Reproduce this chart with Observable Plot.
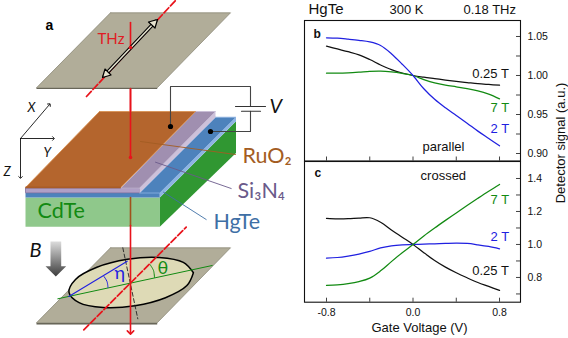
<!DOCTYPE html>
<html><head><meta charset="utf-8">
<script src="https://cdn.jsdelivr.net/npm/d3@7"></script>
<script src="https://cdn.jsdelivr.net/npm/@observablehq/plot@0.6"></script>
<style>
html,body{margin:0;padding:0;background:#fff}
#root{position:relative;width:568px;height:338px;overflow:hidden}
#root svg{position:absolute;left:0;top:0;background:transparent;overflow:visible}
</style></head><body><div id="root"></div>
<script>
const SANS = "Liberation Sans, Arial, sans-serif";
const CAL = "Lato, sans-serif";
const BLACK = "#111", BLUE = "#2020e0", GREEN = "#128a12";

// Gate voltage sample positions
const gate = [-0.8,-0.7,-0.6,-0.5,-0.4,-0.3,-0.2,-0.1,0,0.1,0.2,0.3,0.4,0.5,0.6,0.7,0.8];
// Panel b: parallel
const b025 = [1.0376,1.0340,1.0305,1.0265,1.0205,1.0135,1.0075,1.0032,1.0,0.9978,0.9960,0.9942,0.9925,0.9910,0.9895,0.9885,0.9876];
const b2   = [1.0483,1.0478,1.0465,1.0450,1.0430,1.0385,1.0280,1.0145,1.0,0.9830,0.9695,0.9586,0.9488,0.9389,0.9287,0.9193,0.9099];
const b7   = [1.0030,1.0030,1.0034,1.0042,1.0052,1.0055,1.0045,1.0026,1.0,0.9948,0.9905,0.9876,0.9855,0.9833,0.9804,0.9761,0.9701];
// Panel c: crossed
const c025 = [1.1576,1.1550,1.1560,1.1600,1.1620,1.1350,1.0880,1.0440,1.0,0.9500,0.9030,0.8626,0.8283,0.7980,0.7697,0.7455,0.7212];
const c2   = [0.9170,0.9210,0.9300,0.9420,0.9580,0.9790,0.9920,0.9980,1.0,1.002,1.004,1.006,1.0075,1.006,0.998,0.9879,0.9737];
const c7   = [0.7515,0.7556,0.7630,0.7750,0.7960,0.8400,0.8960,0.9500,1.0,1.0520,1.1000,1.1460,1.1910,1.2360,1.2800,1.3230,1.3640];
// Ticks
const xTicks = [-0.8,-0.4,0,0.4,0.8];
const xLabels = [-0.8,0,0.8];
const bMajor = [0.90,0.95,1.00,1.05];
const bAll = [0.90,0.925,0.95,0.975,1.00,1.025,1.05];
const cMajor = [0.8,1.0,1.2,1.4];
const cAll = [0.7,0.8,0.9,1.0,1.1,1.2,1.3,1.4];

const root = document.getElementById("root");
const zip = (ys) => gate.map((g,i)=>({g, v:ys[i]}));

function panel({top, height, marginTop, marginBottom, yDomain, curves, labels, yTicksAll, yTicksMajor, yFmt, extra=[]}) {
  const chart = Plot.plot({
    width:568, height, marginLeft:304, marginRight:48, marginTop, marginBottom,
    x:{domain:[-1.0035,0.994],axis:null}, y:{domain:yDomain},
    style:{background:"transparent", fontFamily:SANS},
    marks:[
      ...curves.map(c=>Plot.line(zip(c.ys),{x:"g",y:"v",stroke:c.color,strokeWidth:1.25,curve:"catmull-rom"})),
      Plot.tickX(xTicks,{x:d=>d,insetTop:height-marginTop-marginBottom-4,stroke:BLACK,strokeWidth:0.8}),
      Plot.tickY(yTicksAll,{y:d=>d,insetLeft:212,stroke:BLACK,strokeWidth:0.8}),
      Plot.axisY({anchor:"right",ticks:yTicksMajor,tickSize:0,tickPadding:7,tickFormat:yFmt,fontSize:10.5,label:null,textAnchor:"start",fill:BLACK}),
      ...labels.map(l=>Plot.text([l.t],{x:l.x,y:l.y,text:d=>d,fill:l.c||BLACK,fontSize:l.bold?12:13,fontWeight:l.bold?"bold":"normal",textAnchor:"start",lineAnchor:"bottom",fontFamily:SANS})),
      Plot.frame({stroke:BLACK,strokeWidth:1.1}),
      ...extra
    ]
  });
  chart.style.top = top+"px";
  root.append(chart);
}

// Schematic shapes, in a 568 x 338 diagram space
const topPlate = [[110,12.3],[230,12.3],[156.7,87.3],[36,87.3]];
const topPlateEdge = [[36,87.3],[156.7,87.3],[156.7,88.6],[36,88.6]];
const lowPlate = [[110,247.3],[230,247.3],[156.7,322.3],[36,322.3]];
const lowPlateEdge = [[36,322.3],[156.7,322.3],[156.7,324],[36,324]];
const ruTop = [[99,111],[195,111],[120.3,187],[25,187]];
const ruFront = [[25,186],[120.3,186],[120.3,187.7],[25,187.7]];
const sinTop = [[195,111],[215,111],[139,187.7],[120.3,187.7]];
const sinSide = [[215,111],[215,116.7],[139,192.5],[139,187.7]];
const sinFront = [[25,187.5],[139,187.5],[139,192.3],[25,192.3]];
const hgTop = [[215,116.7],[235.5,116.7],[159.3,192.5],[139,192.5]];
const hgSide = [[235.5,116.7],[235.5,120.7],[159.3,197],[159.3,192.5]];
const hgFront = [[25,192.3],[159.3,192.3],[159.3,197],[25,197]];
const cdFront = [[25,197],[159.3,197],[159.3,226.3],[25,226.3]];
const cdSide = [[159.3,197],[235.5,120.7],[235.5,152.5],[159.3,226.3]];
const bArrow = [[50,241],[60.7,241],[60.7,265.7],[65.7,265.7],[55.3,276],[45,265.7],[50,265.7]];
const ellipse = [[192.9,272.2],[186.4,285.1],[165,297.2],[134.4,305.2],[102.8,307],[78.6,302.1],[68.5,291.8],[75,278.9],[96.4,266.8],[127,258.8],[158.6,257],[182.8,261.9]];
const circuitA = [[170,126],[170,86],[250,86],[250,106]];
const circuitB = [[250,110.7],[250,131],[210,131]];
const batt1 = [[235,106],[265,106]];
const batt2 = [[241,110.7],[260,110.7]];
const dashedTop = [[86,96],[175,0]];
const dashedLow = [[83.3,329.3],[185.7,226.7]];
const polarizer = [[104,75],[155,21]];
const headA = [[157,19],[148,21.5],[154.5,27.5]];
const headB = [[102,77],[104.5,68.5],[110.5,74.5]];
const beamA = [[130,22],[130,47]];
const beamB = [[130,88],[130,157]];
const beamC = [[130,197],[130,225]];
const beamD = [[130,225],[130,332]];
const axisXA = [[20,138],[49,104]];
const axisYA = [[20,138],[53,138]];
const axisZA = [[20,138],[20,177]];
const leadRu = [[140,141],[235,154]];
const leadSi = [[155,161.7],[230.7,188]];
const leadHg = [[163,191.7],[205.7,219]];
const majorAxis = [[57.3,298.3],[211.7,265]];
const etaLine = [[68.3,296],[126.7,260.7]];
const perpLine = [[122.3,247.3],[137.3,318.3]];
const arcEta = [[103.5,276],[106.5,281],[107.5,287]];
const arcTheta = [[149.5,264],[153,270],[154,277]];
const dots = [[170,126],[210,131]];
const redDots = [[130,47],[130,157],[130,283]];

const diagramTexts = [
  {t:"a",x:45,y:29,c:"#000",s:14,w:"bold",f:SANS},
  {t:"THz",x:97,y:43,c:"#e01b24",s:15,f:CAL},
  {t:"V",x:269,y:112,c:"#111",s:20,i:1,f:CAL},
  {t:"X",x:27,y:111,c:"#111",s:13,i:1,f:CAL},
  {t:"Y",x:43,y:156,c:"#111",s:13,i:1,f:CAL},
  {t:"Z",x:3,y:175,c:"#111",s:13,i:1,f:CAL},
  {t:"RuO\u2082",x:242,y:162,c:"#a35c22",s:21.5,f:CAL},
  {t:"Si\u2083N\u2084",x:237,y:197,c:"#6a5a8a",s:21.5,f:CAL},
  {t:"HgTe",x:213,y:228,c:"#3e6fa5",s:21.5,f:CAL},
  {t:"CdTe",x:37,y:217,c:"#128a12",s:21.5,f:CAL},
  {t:"B",x:29,y:256,c:"#111",s:20,i:1,f:CAL},
  {t:"\u03b7",x:114,y:278,c:"#2020e0",s:18,f:CAL},
  {t:"\u03b8",x:157,y:273,c:"#128a12",s:18,f:CAL}
];

const area = (pts,fill,stroke) => Plot.line([...pts,pts[0]],{x:d=>d[0],y:d=>d[1],fill,stroke:stroke||"none",strokeWidth:stroke?0.8:0});
const seg = (pts,stroke,strokeWidth=1,extra={}) => Plot.line(pts,{x:d=>d[0],y:d=>d[1],stroke,strokeWidth,...extra});

const diagram = Plot.plot({
  width:568,height:338,margin:0,
  x:{domain:[0,568],axis:null},y:{domain:[338,0],axis:null},
  style:{background:"transparent"},
  marks:[
    seg(beamB,"#e8131b",1.6),
    area(topPlateEdge,"#5e5c4f"),
    area(topPlate,"#b1ad99","#8c8977"),
    seg(dashedTop,"#e8131b",1.7,{strokeDasharray:"7,2.5"}),
    seg(beamA,"#e8131b",1.6),
    seg(polarizer,"#000",3.6),
    seg(polarizer,"#e6e3cf",1.5),
    Plot.line([...headA,headA[0]],{x:d=>d[0],y:d=>d[1],fill:"#e6e3cf",stroke:"#000",strokeWidth:1.2}),
    Plot.line([...headB,headB[0]],{x:d=>d[0],y:d=>d[1],fill:"#e6e3cf",stroke:"#000",strokeWidth:1.2}),
    Plot.dot([redDots[0]],{x:d=>d[0],y:d=>d[1],r:1.8,fill:"#e8131b"}),
    area(cdFront,"url(#pf)"),
    area(cdSide,"url(#ps)"),
    area(hgFront,"url(#ph)"),
    area(hgSide,"#8eb4e3"),
    area(hgTop,"url(#ph)","#8eb4e3"),
    area(sinFront,"#b09fc6","#7d6c9c"),
    area(sinSide,"#cdc1da"),
    area(sinTop,"#a08fb0","#c8bbd6"),
    area(ruTop,"url(#pr)","#d98f4c"),
    area(ruFront,"#a85c28"),
    seg(beamB,"#e8131b",1.6),
    Plot.dot([redDots[1]],{x:d=>d[0],y:d=>d[1],r:1.8,fill:"#e8131b"}),
    seg(beamC,"#a0521c",1.6),
    seg(leadRu,"#a35c22",0.9),
    seg(leadSi,"#6a5a8a",0.9),
    seg(leadHg,"#3e6fa5",0.9),
    seg(circuitA,"#444",1.1),
    seg(circuitB,"#444",1.1),
    seg(batt1,"#333",1.1),
    seg(batt2,"#333",1.1),
    Plot.dot(dots,{x:d=>d[0],y:d=>d[1],r:2.6,fill:"#000"}),
    seg(axisXA,"#111",0.9,{markerEnd:"arrow"}),
    seg(axisYA,"#111",0.9,{markerEnd:"arrow"}),
    seg(axisZA,"#111",0.9,{markerEnd:"arrow"}),
    area(bArrow,"url(#bgrad)"),
    area(lowPlateEdge,"#5e5c4f"),
    area(lowPlate,"#b1ad99","#8c8977"),
    Plot.line([...ellipse,ellipse[0]],{x:d=>d[0],y:d=>d[1],curve:"catmull-rom-closed",fill:"#dedab6",stroke:"#000",strokeWidth:1.5}),
    seg(perpLine,"#222",0.9,{strokeDasharray:"4,2.5"}),
    seg(majorAxis,"#128a12",1),
    seg(etaLine,"#2020e0",1.1),
    seg(arcEta,"#2020e0",1,{curve:"catmull-rom"}),
    seg(arcTheta,"#128a12",1,{curve:"catmull-rom"}),
    seg(dashedLow,"#e8131b",1.7,{strokeDasharray:"7,2.5"}),
    seg(beamD,"#e8131b",1.6,{markerEnd:"arrow"}),
    ...diagramTexts.map(d=>Plot.text([d],{x:"x",y:"y",text:"t",fill:"c",fontSize:d.s,fontWeight:d.w||"normal",fontStyle:d.i?"italic":"normal",fontFamily:d.f,textAnchor:"start",lineAnchor:"bottom"}))
  ]
});
const defs = d3.create("svg:defs");
const grad = defs.append("linearGradient").attr("id","bgrad").attr("x1",0).attr("x2",0).attr("y1",0).attr("y2",1);
grad.append("stop").attr("offset","0%").attr("stop-color","#dcdcdc");
grad.append("stop").attr("offset","100%").attr("stop-color","#3c3c3c");
[["pr","#b8682f","#a85c28"],["ph","#5187c2","#4274ab"],["ps","#35a037","#1f7d22"],["pf","#93cb8f","#82bd80"]].forEach(([id,bg,fg])=>{
  const p = defs.append("pattern").attr("id",id).attr("width",2).attr("height",2).attr("patternUnits","userSpaceOnUse");
  p.append("rect").attr("width",2).attr("height",2).attr("fill",bg);
  p.append("rect").attr("width",1).attr("height",1).attr("fill",fg);
});
diagram.prepend(defs.node());
root.append(diagram);

panel({
  top:0,height:161,marginTop:20,marginBottom:0.5,yDomain:[0.8904,1.0705],
  curves:[{ys:b025,color:BLACK},{ys:b7,color:GREEN},{ys:b2,color:BLUE}],
  yTicksAll:bAll,yTicksMajor:bMajor,yFmt:d3.format(".2f"),
  labels:[
    {t:"b",x:-0.92,y:1.0487,bold:true},
    {t:"0.25 T",x:0.548,y:0.9974},
    {t:"7 T",x:0.717,y:0.9538,c:GREEN},
    {t:"2 T",x:0.717,y:0.9269,c:BLUE},
    {t:"parallel",x:0.088,y:0.9038}
  ]
});
panel({
  top:161,height:178,marginTop:0,marginBottom:37.3,yDomain:[0.65,1.503],
  curves:[{ys:c025,color:BLACK},{ys:c2,color:BLUE},{ys:c7,color:GREEN}],
  yTicksAll:cAll,yTicksMajor:cMajor,yFmt:d3.format(".1f"),
  labels:[
    {t:"c",x:-0.91,y:1.406,bold:true},
    {t:"crossed",x:0.07,y:1.388},
    {t:"7 T",x:0.717,y:1.248,c:GREEN},
    {t:"2 T",x:0.717,y:1.018,c:BLUE},
    {t:"0.25 T",x:0.548,y:0.812}
  ],
  extra:[
    Plot.axisX({anchor:"bottom",ticks:xLabels,tickSize:0,tickPadding:6,tickFormat:d=>d.toFixed(1),fontSize:10.5,label:null,fill:BLACK}),
    Plot.text(["Gate Voltage (V)"],{x:0.06,frameAnchor:"bottom",dy:29.5,text:d=>d,fontSize:13,fill:BLACK,fontFamily:SANS})
  ]
});

const head = Plot.plot({
  width:568,height:338,margin:0,
  x:{domain:[0,568],axis:null},y:{domain:[338,0],axis:null},
  style:{background:"transparent"},
  marks:[
    Plot.text(["HgTe"],{x:308,y:13,text:d=>d,fontSize:15,fill:BLACK,textAnchor:"start",lineAnchor:"bottom",fontFamily:SANS}),
    Plot.text(["300 K"],{x:389,y:13,text:d=>d,fontSize:13,fill:BLACK,textAnchor:"start",lineAnchor:"bottom",fontFamily:SANS}),
    Plot.text(["0.18 THz"],{x:463,y:13,text:d=>d,fontSize:13,fill:BLACK,textAnchor:"start",lineAnchor:"bottom",fontFamily:SANS}),
    Plot.text(["Detector signal (a.u.)"],{x:560,y:142.5,text:d=>d,rotate:-90,fontSize:13,fill:BLACK,fontFamily:SANS})
  ]
});
root.append(head);
</script></body></html>
